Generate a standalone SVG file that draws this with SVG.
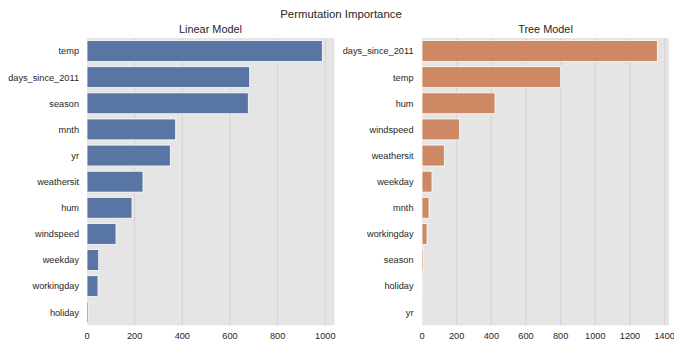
<svg xmlns="http://www.w3.org/2000/svg" width="674" height="340" viewBox="0 0 674 340">
<style>
text{font-family:"Liberation Sans",Arial,sans-serif;fill:#262626}
.title{font-size:11.4px}
.sub{font-size:10.9px}
.yl{font-size:9.2px;text-anchor:end}
.xl{font-size:9.2px;text-anchor:middle}
.bg{fill:#e5e5e5}
.grid line{stroke:#d2d2d2;stroke-width:1}
.lin rect{fill:#5975a4;stroke:#ffffff;stroke-width:0.8}
.tree rect{fill:#cc8963;stroke:#ffffff;stroke-width:0.8}
</style>
<rect width="674" height="340" fill="#ffffff"/>
<text class="title" x="341" y="17.5" text-anchor="middle">Permutation Importance</text>

<g id="linear-model">
<rect class="bg" x="87" y="38" width="247.5" height="287.3"/>
<g class="grid">
<line x1="134.66" y1="38" x2="134.66" y2="325.3"/>
<line x1="182.32" y1="38" x2="182.32" y2="325.3"/>
<line x1="229.98" y1="38" x2="229.98" y2="325.3"/>
<line x1="277.64" y1="38" x2="277.64" y2="325.3"/>
<line x1="325.3" y1="38" x2="325.3" y2="325.3"/>
</g>
<text class="sub" x="210.5" y="33" text-anchor="middle">Linear Model</text>
<g class="lin">
<rect x="87" y="40.61" width="235.3" height="20.9"/>
<rect x="87" y="66.73" width="162.7" height="20.9"/>
<rect x="87" y="92.85" width="161.3" height="20.9"/>
<rect x="87" y="118.97" width="88.7" height="20.9"/>
<rect x="87" y="145.09" width="83.3" height="20.9"/>
<rect x="87" y="171.21" width="56" height="20.9"/>
<rect x="87" y="197.33" width="45" height="20.9"/>
<rect x="87" y="223.45" width="29" height="20.9"/>
<rect x="87" y="249.57" width="11.7" height="20.9"/>
<rect x="87" y="275.69" width="11" height="20.9"/>
<rect x="87" y="301.81" width="1.3" height="20.9"/>
</g>
<g>
<text class="yl" x="79" y="54.4">temp</text>
<text class="yl" x="79" y="80.5">days_since_2011</text>
<text class="yl" x="79" y="106.6">season</text>
<text class="yl" x="79" y="132.7">mnth</text>
<text class="yl" x="79" y="158.8">yr</text>
<text class="yl" x="79" y="185">weathersit</text>
<text class="yl" x="79" y="211.1">hum</text>
<text class="yl" x="79" y="237.2">windspeed</text>
<text class="yl" x="79" y="263.3">weekday</text>
<text class="yl" x="79" y="289.4">workingday</text>
<text class="yl" x="79" y="315.6">holiday</text>
</g>
<g>
<text class="xl" x="87" y="339.3">0</text>
<text class="xl" x="134.66" y="339.3">200</text>
<text class="xl" x="182.32" y="339.3">400</text>
<text class="xl" x="229.98" y="339.3">600</text>
<text class="xl" x="277.64" y="339.3">800</text>
<text class="xl" x="325.3" y="339.3">1000</text>
</g>
</g>

<g id="tree-model">
<rect class="bg" x="422" y="38" width="247" height="287.3"/>
<g class="grid">
<line x1="456.67" y1="38" x2="456.67" y2="325.3"/>
<line x1="491.34" y1="38" x2="491.34" y2="325.3"/>
<line x1="526.01" y1="38" x2="526.01" y2="325.3"/>
<line x1="560.68" y1="38" x2="560.68" y2="325.3"/>
<line x1="595.35" y1="38" x2="595.35" y2="325.3"/>
<line x1="630.02" y1="38" x2="630.02" y2="325.3"/>
<line x1="664.69" y1="38" x2="664.69" y2="325.3"/>
</g>
<text class="sub" x="545.5" y="33" text-anchor="middle">Tree Model</text>
<g class="tree">
<rect x="422" y="40.61" width="235.3" height="20.9"/>
<rect x="422" y="66.73" width="138.7" height="20.9"/>
<rect x="422" y="92.85" width="73" height="20.9"/>
<rect x="422" y="118.97" width="37.7" height="20.9"/>
<rect x="422" y="145.09" width="22.3" height="20.9"/>
<rect x="422" y="171.21" width="10" height="20.9"/>
<rect x="422" y="197.33" width="7" height="20.9"/>
<rect x="422" y="223.45" width="5" height="20.9"/>
<rect x="422" y="249.57" width="1.3" height="20.9"/>
<rect x="422" y="275.69" width="0.3" height="20.9"/>
<rect x="422" y="301.81" width="0.2" height="20.9"/>
</g>
<g>
<text class="yl" x="413.5" y="54.4">days_since_2011</text>
<text class="yl" x="413.5" y="80.5">temp</text>
<text class="yl" x="413.5" y="106.6">hum</text>
<text class="yl" x="413.5" y="132.7">windspeed</text>
<text class="yl" x="413.5" y="158.8">weathersit</text>
<text class="yl" x="413.5" y="185">weekday</text>
<text class="yl" x="413.5" y="211.1">mnth</text>
<text class="yl" x="413.5" y="237.2">workingday</text>
<text class="yl" x="413.5" y="263.3">season</text>
<text class="yl" x="413.5" y="289.4">holiday</text>
<text class="yl" x="413.5" y="315.6">yr</text>
</g>
<g>
<text class="xl" x="422" y="339.3">0</text>
<text class="xl" x="456.67" y="339.3">200</text>
<text class="xl" x="491.34" y="339.3">400</text>
<text class="xl" x="526.01" y="339.3">600</text>
<text class="xl" x="560.68" y="339.3">800</text>
<text class="xl" x="595.35" y="339.3">1000</text>
<text class="xl" x="630.02" y="339.3">1200</text>
<text class="xl" x="664.69" y="339.3">1400</text>
</g>
</g>
</svg>
